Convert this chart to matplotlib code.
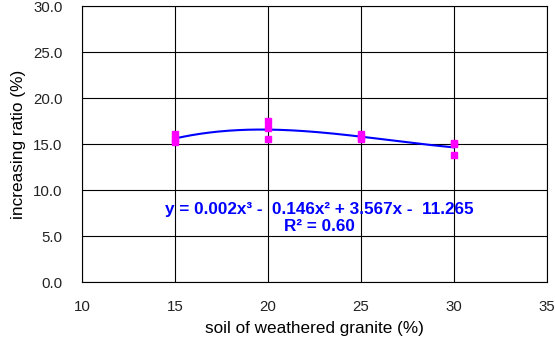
import numpy as np
import matplotlib
matplotlib.use("Agg")
import matplotlib.pyplot as plt

plt.rcParams['font.family'] = ['Liberation Sans', 'DejaVu Sans']

# data
soil = [15, 15, 15, 20, 20, 20, 25, 25, 25, 30, 30, 30]
ratio = [16.1, 15.5, 15.2, 17.5, 16.7, 15.5, 16.1, 15.8, 15.5, 15.1, 15.0, 13.8]

eq_text = "y = 0.002x³ -  0.146x² + 3.567x -  11.265"
r2_text = "R² = 0.60"

# cubic trend line
coef = np.polyfit(soil, ratio, 3)
xs = np.linspace(15, 30, 200)
ys = np.polyval(coef, xs)

fig = plt.figure(figsize=(5.55, 3.45), dpi=100)
ax = fig.add_axes([0.1477, 0.1826, 0.8379, 0.8])

ax.plot(xs, ys, color='#0000ff', linewidth=1.5, zorder=3)
ax.plot(soil, ratio, 's', color='#ff00ff', markersize=4.2, zorder=4, linestyle='none')

ax.set_xlim(10, 35)
ax.set_ylim(0, 30)
ax.set_xticks([10, 15, 20, 25, 30, 35])
ax.set_yticks([0, 5, 10, 15, 20, 25, 30])
ax.set_yticklabels(["%.1f" % v for v in [0, 5, 10, 15, 20, 25, 30]])
ax.grid(True, color='black', linewidth=0.8)
ax.tick_params(axis='y', length=0, labelsize=10.8, colors='#222222', pad=14)
ax.tick_params(axis='x', length=0, labelsize=10.8, colors='#222222', pad=13)
for s in ax.spines.values():
    s.set_color('black')
    s.set_linewidth(0.8)

ax.set_xlabel("soil of weathered granite (%)", fontsize=12.3, labelpad=5)
ax.set_ylabel("increasing ratio (%)", fontsize=12.4, labelpad=5)

ax.text(22.75, 7.9, eq_text, color='#0000ff', fontweight='bold', fontsize=12.3,
        ha='center', va='center')
ax.text(22.75, 6.0, r2_text, color='#0000ff', fontweight='bold', fontsize=12.3,
        ha='center', va='center')

fig.savefig("out.png", dpi=100)
